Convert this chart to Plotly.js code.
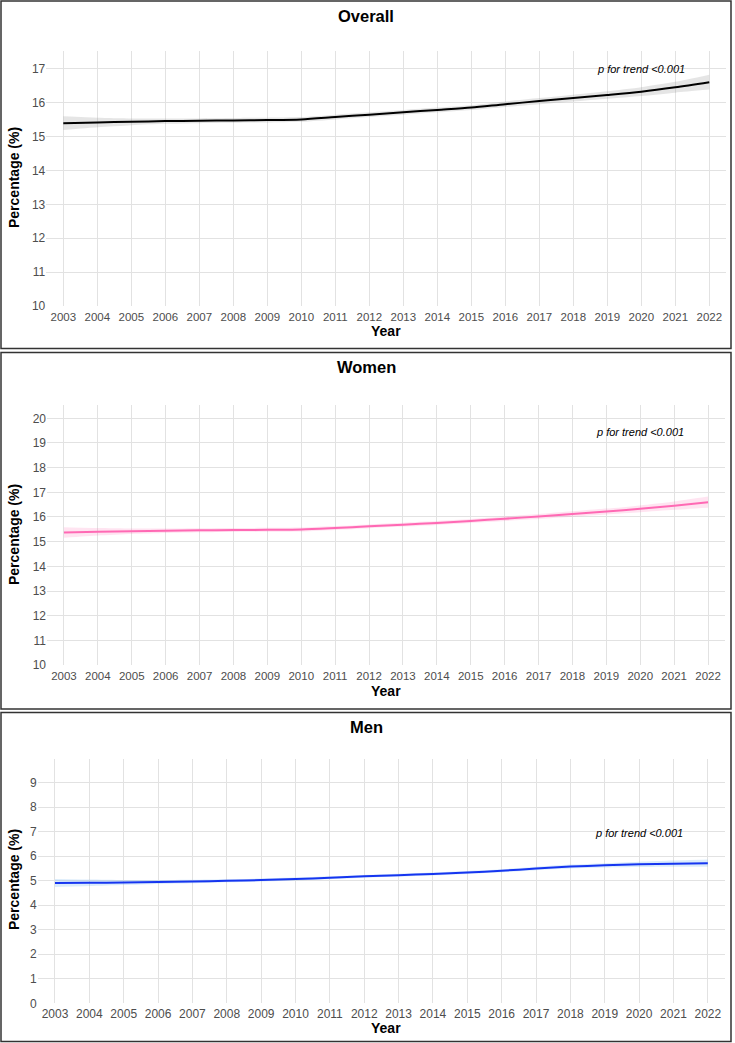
<!DOCTYPE html>
<html>
<head>
<meta charset="utf-8">
<script src="https://cdn.plot.ly/plotly-3.0.1.min.js"></script>
<style>html,body{margin:0;padding:0;background:#fff;}#chart{width:735px;height:1043px;}</style>
</head>
<body>
<div id="chart"></div>
<script>
// ---- data ----
const years = [2003,2004,2005,2006,2007,2008,2009,2010,2011,2012,2013,2014,2015,2016,2017,2018,2019,2020,2021,2022];

const overall      = [15.40,15.42,15.44,15.46,15.47,15.48,15.49,15.51,15.58,15.65,15.72,15.79,15.86,15.96,16.05,16.14,16.23,16.33,16.46,16.61];
const overallLower = [15.20,15.28,15.34,15.38,15.40,15.41,15.42,15.44,15.51,15.58,15.65,15.72,15.79,15.88,15.96,16.04,16.12,16.20,16.30,16.39];
const overallUpper = [15.60,15.56,15.54,15.54,15.54,15.55,15.56,15.58,15.65,15.72,15.79,15.86,15.93,16.04,16.14,16.24,16.34,16.46,16.62,16.83];

const women      = [15.37,15.40,15.42,15.44,15.46,15.47,15.48,15.49,15.55,15.62,15.69,15.76,15.84,15.93,16.02,16.12,16.22,16.33,16.46,16.60];
const womenLower = [15.16,15.25,15.31,15.35,15.38,15.39,15.40,15.41,15.47,15.54,15.61,15.68,15.76,15.84,15.92,16.01,16.10,16.19,16.29,16.37];
const womenUpper = [15.58,15.55,15.53,15.53,15.54,15.55,15.56,15.57,15.63,15.70,15.77,15.84,15.92,16.02,16.12,16.23,16.34,16.47,16.63,16.83];

const men      = [4.91,4.92,4.93,4.95,4.97,5.00,5.03,5.07,5.12,5.18,5.23,5.28,5.34,5.41,5.50,5.58,5.63,5.67,5.70,5.72];
const menLower = [4.75,4.79,4.83,4.87,4.90,4.94,4.97,5.01,5.06,5.12,5.17,5.22,5.28,5.35,5.43,5.50,5.54,5.56,5.57,5.57];
const menUpper = [5.07,5.05,5.03,5.03,5.04,5.06,5.09,5.13,5.18,5.24,5.29,5.34,5.40,5.47,5.57,5.66,5.72,5.78,5.83,5.87];

const panelTitles = ["Overall","Women","Men"];
const trendText = "p for trend <0.001";
const trendY = [17.0, 19.45, 6.93];
const trendX = 2020;

// ---- traces ----
function band(lo, hi, fillcol, xa, ya){
  return [
    {x: years, y: lo, xaxis: xa, yaxis: ya, mode: 'lines', line: {width: 0, shape: 'spline', smoothing: 0.6}, hoverinfo: 'skip', showlegend: false},
    {x: years, y: hi, xaxis: xa, yaxis: ya, mode: 'lines', line: {width: 0, shape: 'spline', smoothing: 0.6}, fill: 'tonexty', fillcolor: fillcol, hoverinfo: 'skip', showlegend: false}
  ];
}
function line(y, col, xa, ya){
  return {x: years, y: y, xaxis: xa, yaxis: ya, mode: 'lines', line: {color: col, width: 2, shape: 'spline', smoothing: 0.8}, showlegend: false};
}

const data = [
  ...band(overallLower, overallUpper, 'rgba(150,150,150,0.25)', 'x', 'y'),
  line(overall, '#000000', 'x', 'y'),
  ...band(womenLower, womenUpper, 'rgba(255,105,180,0.18)', 'x2', 'y2'),
  line(women, '#FF69B4', 'x2', 'y2'),
  ...band(menLower, menUpper, 'rgba(110,180,240,0.25)', 'x3', 'y3'),
  line(men, '#1535F0', 'x3', 'y3')
];

// ---- layout ----
const W = 735, H = 1043;
const px = v => v / W;
const py = v => 1 - v / H;
const tickFont = {family: 'Liberation Sans, Arial, sans-serif', size: 11.5, color: '#4d4d4d'};
const gridCol = '#e2e2e2';

function xax(d0, d1, anchor, fs){
  return {domain: [px(d0), px(d1)], range: [2002.5, 2022.5], anchor: anchor, tickvals: years,
    ticktext: years.map(String), ticks: '', ticklabelstandoff: 2, showline: false, zeroline: false, gridcolor: gridCol, gridwidth: 1,
    tickfont: Object.assign({}, tickFont, {size: fs}), fixedrange: true};
}
function yax(top, bot, r, anchor, fs){
  return {domain: [py(bot), py(top)], range: r, anchor: anchor, dtick: 1, tick0: 0, ticks: '', showline: false,
    zeroline: false, gridcolor: gridCol, gridwidth: 1, tickfont: Object.assign({}, tickFont, {size: fs}), fixedrange: true};
}

const boxes = [[1, 348.5], [352.5, 709], [712.5, 1041.5]];
const shapes = boxes.map(b => ({type: 'rect', xref: 'paper', yref: 'paper', x0: px(1), x1: px(731), y0: py(b[1]), y1: py(b[0]),
  line: {color: '#333333', width: 1.5}, fillcolor: 'rgba(0,0,0,0)'}));

const titleY = [16, 367, 727];
const yearY = [331, 691, 1028];
const percY = [178, 535, 880];
const bold = {family: 'Liberation Sans, Arial, sans-serif', color: '#000000'};
const annotations = [];
for (let i = 0; i < 3; i++){
  annotations.push({text: '<b>' + panelTitles[i] + '</b>', xref: 'paper', yref: 'paper', x: px(366), y: py(titleY[i]),
    xanchor: 'center', yanchor: 'middle', showarrow: false, font: Object.assign({}, bold, {size: 16.5})});
  annotations.push({text: '<b>Year</b>', xref: 'paper', yref: 'paper', x: px(386), y: py(yearY[i]),
    xanchor: 'center', yanchor: 'middle', showarrow: false, font: Object.assign({}, bold, {size: 14})});
  annotations.push({text: '<b>Percentage (%)</b>', xref: 'paper', yref: 'paper', x: px(14), y: py(percY[i]),
    xanchor: 'center', yanchor: 'middle', textangle: -90, showarrow: false, font: Object.assign({}, bold, {size: 14})});
  const xa = i === 0 ? 'x' : 'x' + (i + 1);
  const ya = i === 0 ? 'y' : 'y' + (i + 1);
  annotations.push({text: '<i>' + trendText + '</i>', xref: xa, yref: ya, x: trendX, y: trendY[i],
    xanchor: 'center', yanchor: 'middle', showarrow: false,
    font: {family: 'Liberation Sans, Arial, sans-serif', size: 11, color: '#000000'}});
}

const layout = {
  width: W, height: H, margin: {l: 0, r: 0, t: 0, b: 0}, showlegend: false,
  paper_bgcolor: '#ffffff', plot_bgcolor: '#ffffff',
  xaxis: xax(46.3, 726.3, 'y', 11.5),
  yaxis: yax(51, 306, [10, 17.53], 'x', 12),
  xaxis2: xax(47, 725, 'y2', 11.5),
  yaxis2: yax(405, 665, [10, 20.54], 'x2', 12),
  xaxis3: xax(37.8, 725, 'y3', 12),
  yaxis3: yax(759, 1003.3, [0, 9.97], 'x3', 12),
  shapes: shapes,
  annotations: annotations
};

Plotly.newPlot('chart', data, layout, {displayModeBar: false, staticPlot: true});
</script>
</body>
</html>
